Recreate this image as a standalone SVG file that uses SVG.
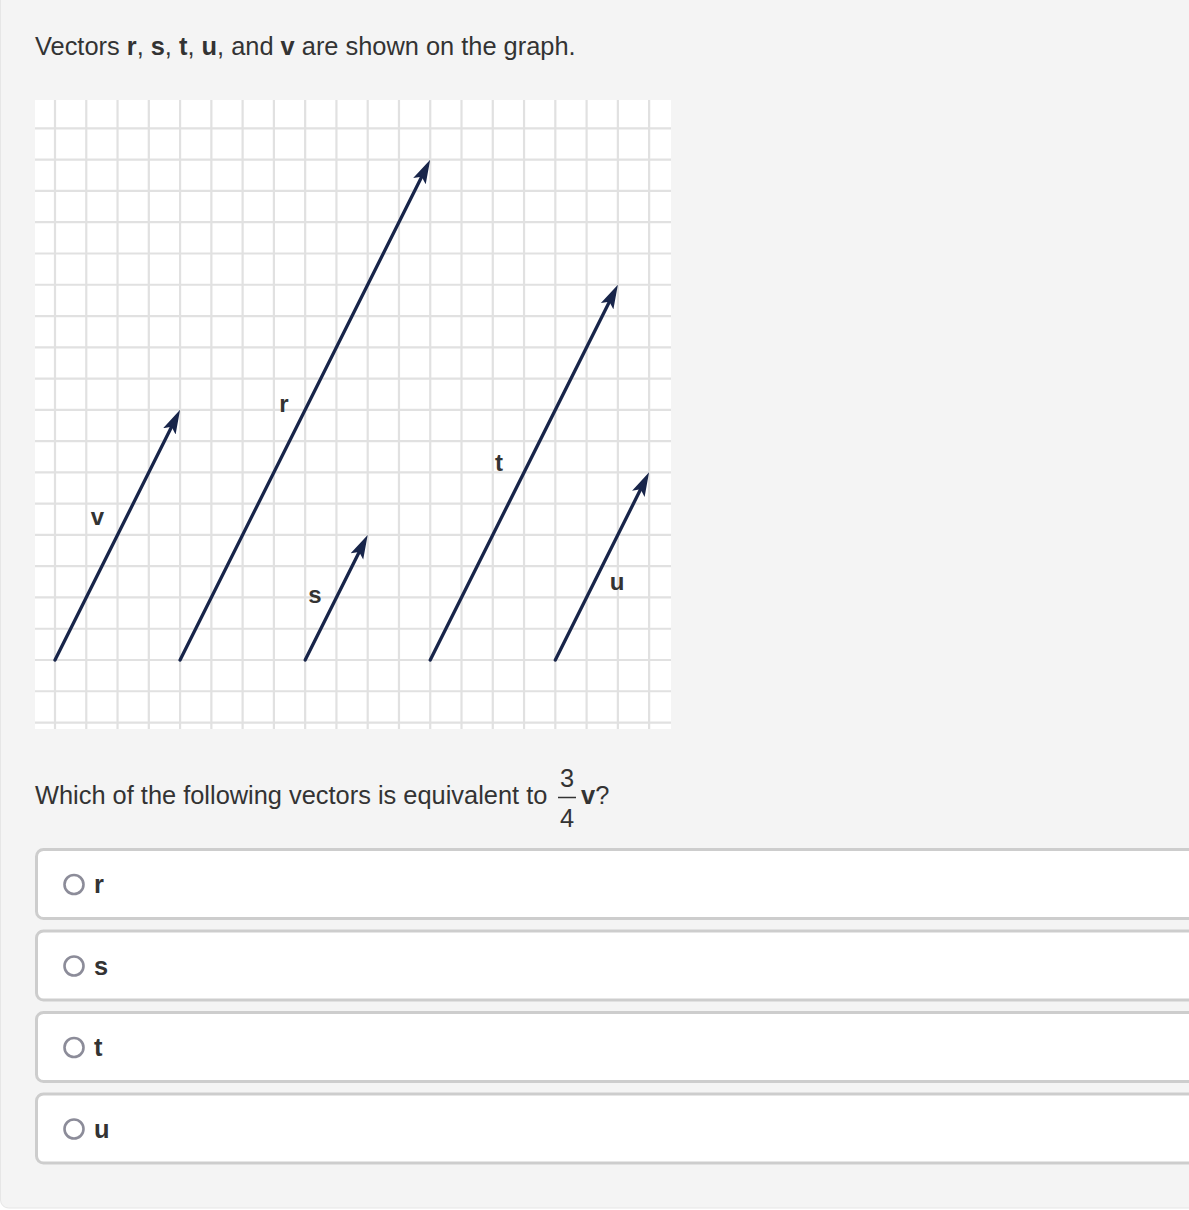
<svg xmlns="http://www.w3.org/2000/svg" width="1189" height="1210" viewBox="0 0 1189 1210">
<defs>
<style>
.txt{font-family:"Liberation Sans",Arial,sans-serif;font-size:25.4px;fill:#333}
.b{font-weight:bold}
.lbl{font-family:"Liberation Sans",Arial,sans-serif;font-size:24px;font-weight:bold;fill:#333;text-anchor:middle}
.grid line{stroke:#e1e1e1;stroke-width:2.2}
.vec{stroke:#18254a;stroke-width:3.3;fill:none;stroke-linecap:round}
.opt{fill:#fff;stroke:#cdcdcd;stroke-width:3}
.radio{fill:none;stroke:#8c8c99;stroke-width:2.6}
</style>
<marker id="ah" viewBox="0 0 24 16" markerWidth="24" markerHeight="16" refX="14" refY="8" orient="auto" markerUnits="userSpaceOnUse">
<path d="M24 8 L0 1 L5 8 L0 15 Z" fill="#18254a"/>
</marker>
</defs>
<rect x="0" y="0" width="1189" height="1210" fill="#fff"/>
<rect x="0.5" y="-10" width="1200" height="1218" rx="8" fill="#f4f4f4" stroke="#e6e6e6" stroke-width="1"/>
<text class="txt" x="35" y="55">Vectors <tspan class="b">r</tspan>, <tspan class="b">s</tspan>, <tspan class="b">t</tspan>, <tspan class="b">u</tspan>, and <tspan class="b">v</tspan> are shown on the graph.</text>
<g id="graph">
<rect x="35" y="100" width="636" height="629" fill="#fff"/>
<g class="grid">
<line x1="55" y1="100" x2="55" y2="729"/>
<line x1="86.27" y1="100" x2="86.27" y2="729"/>
<line x1="117.54" y1="100" x2="117.54" y2="729"/>
<line x1="148.81" y1="100" x2="148.81" y2="729"/>
<line x1="180.08" y1="100" x2="180.08" y2="729"/>
<line x1="211.35" y1="100" x2="211.35" y2="729"/>
<line x1="242.62" y1="100" x2="242.62" y2="729"/>
<line x1="273.89" y1="100" x2="273.89" y2="729"/>
<line x1="305.16" y1="100" x2="305.16" y2="729"/>
<line x1="336.43" y1="100" x2="336.43" y2="729"/>
<line x1="367.7" y1="100" x2="367.7" y2="729"/>
<line x1="398.97" y1="100" x2="398.97" y2="729"/>
<line x1="430.24" y1="100" x2="430.24" y2="729"/>
<line x1="461.51" y1="100" x2="461.51" y2="729"/>
<line x1="492.78" y1="100" x2="492.78" y2="729"/>
<line x1="524.05" y1="100" x2="524.05" y2="729"/>
<line x1="555.32" y1="100" x2="555.32" y2="729"/>
<line x1="586.59" y1="100" x2="586.59" y2="729"/>
<line x1="617.86" y1="100" x2="617.86" y2="729"/>
<line x1="649.13" y1="100" x2="649.13" y2="729"/>
<line x1="35" y1="128.41" x2="671" y2="128.41"/>
<line x1="35" y1="159.68" x2="671" y2="159.68"/>
<line x1="35" y1="190.95" x2="671" y2="190.95"/>
<line x1="35" y1="222.22" x2="671" y2="222.22"/>
<line x1="35" y1="253.49" x2="671" y2="253.49"/>
<line x1="35" y1="284.76" x2="671" y2="284.76"/>
<line x1="35" y1="316.03" x2="671" y2="316.03"/>
<line x1="35" y1="347.3" x2="671" y2="347.3"/>
<line x1="35" y1="378.57" x2="671" y2="378.57"/>
<line x1="35" y1="409.84" x2="671" y2="409.84"/>
<line x1="35" y1="441.11" x2="671" y2="441.11"/>
<line x1="35" y1="472.38" x2="671" y2="472.38"/>
<line x1="35" y1="503.65" x2="671" y2="503.65"/>
<line x1="35" y1="534.92" x2="671" y2="534.92"/>
<line x1="35" y1="566.19" x2="671" y2="566.19"/>
<line x1="35" y1="597.46" x2="671" y2="597.46"/>
<line x1="35" y1="628.73" x2="671" y2="628.73"/>
<line x1="35" y1="660" x2="671" y2="660"/>
<line x1="35" y1="691.27" x2="671" y2="691.27"/>
<line x1="35" y1="722.54" x2="671" y2="722.54"/>
</g>
</g>
<g id="connectors">
<line id="vec-v" class="vec" x1="55" y1="660" x2="175.6" y2="418.8" marker-end="url(#ah)"/>
<line id="vec-r" class="vec" x1="180.08" y1="660" x2="425.7" y2="168.7" marker-end="url(#ah)"/>
<line id="vec-s" class="vec" x1="305.16" y1="660" x2="363.2" y2="543.9" marker-end="url(#ah)"/>
<line id="vec-t" class="vec" x1="430.24" y1="660" x2="613.4" y2="293.7" marker-end="url(#ah)"/>
<line id="vec-u" class="vec" x1="555.32" y1="660" x2="644.6" y2="481.3" marker-end="url(#ah)"/>
</g>
<g id="labels">
<text class="lbl" x="97.5" y="525">v</text>
<text class="lbl" x="284" y="412">r</text>
<text class="lbl" x="315" y="603">s</text>
<text class="lbl" x="499" y="471">t</text>
<text class="lbl" x="617" y="590">u</text>
</g>
<g id="question">
<text class="txt" x="35" y="804">Which of the following vectors is equivalent to</text>
<text class="txt" x="567" y="787" text-anchor="middle" font-size="22">3</text>
<line x1="558" y1="797.5" x2="576" y2="797.5" stroke="#333" stroke-width="1.5"/>
<text class="txt" x="567" y="827" text-anchor="middle" font-size="22">4</text>
<text class="txt" x="581" y="804"><tspan class="b">v</tspan>?</text>
</g>
<g id="option-r">
<rect class="opt" x="36.5" y="849.5" width="1170" height="69" rx="7"/>
<circle class="radio" cx="74" cy="884.5" r="9.5"/>
<text class="txt b" x="94" y="893">r</text>
</g>
<g id="option-s">
<rect class="opt" x="36.5" y="931" width="1170" height="69" rx="7"/>
<circle class="radio" cx="74" cy="966" r="9.5"/>
<text class="txt b" x="94" y="975">s</text>
</g>
<g id="option-t">
<rect class="opt" x="36.5" y="1012.5" width="1170" height="69" rx="7"/>
<circle class="radio" cx="74" cy="1047.5" r="9.5"/>
<text class="txt b" x="94" y="1056">t</text>
</g>
<g id="option-u">
<rect class="opt" x="36.5" y="1094" width="1170" height="69" rx="7"/>
<circle class="radio" cx="74" cy="1129" r="9.5"/>
<text class="txt b" x="94" y="1138">u</text>
</g>
</svg>
